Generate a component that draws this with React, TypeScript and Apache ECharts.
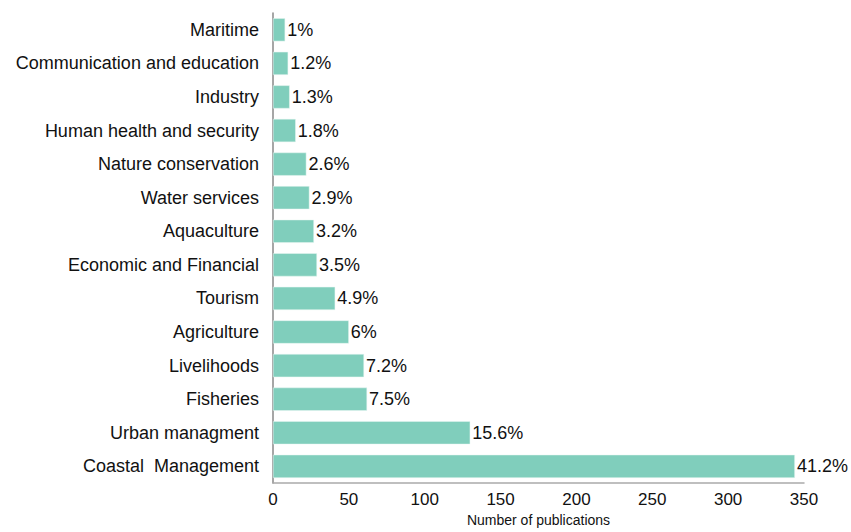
import React, { useEffect, useRef } from "react";
import * as echarts from "echarts";

const categories = [
  "Coastal  Management",
  "Urban managment",
  "Fisheries",
  "Livelihoods",
  "Agriculture",
  "Tourism",
  "Economic and Financial",
  "Aquaculture",
  "Water services",
  "Nature conservation",
  "Human health and security",
  "Industry",
  "Communication and education",
  "Maritime",
];
const publications = [344, 130, 62, 60, 50, 41, 29, 27, 24, 22, 15, 11, 10, 8];
const percentLabels = ["41.2%", "15.6%", "7.5%", "7.2%", "6%", "4.9%", "3.5%", "3.2%", "2.9%", "2.6%", "1.8%", "1.3%", "1.2%", "1%"];
const xTicks = [0, 50, 100, 150, 200, 250, 300, 350];

export default function App() {
  const ref = useRef<HTMLDivElement>(null);
  useEffect(() => {
    if (!ref.current) return;
    const chart = echarts.init(ref.current, null, { renderer: "svg" });
    chart.setOption({
      animation: false,
      textStyle: { fontFamily: "Liberation Sans, Arial, sans-serif" },
      grid: { left: 273, right: 47, top: 13, bottom: 41, containLabel: false },
      xAxis: {
        type: "value",
        min: xTicks[0],
        max: xTicks[xTicks.length - 1],
        interval: 50,
        name: "Number of publications",
        nameLocation: "middle",
        nameGap: 26,
        nameTextStyle: { fontSize: 14, color: "#111" },
        axisLine: { show: true, lineStyle: { color: "#aaa", width: 1.5 } },
        axisTick: { show: false },
        splitLine: { show: false },
        axisLabel: { fontSize: 17, color: "#111", margin: 8 },
      },
      yAxis: {
        type: "category",
        data: categories,
        axisLine: { show: true, lineStyle: { color: "#888", width: 1.5 } },
        axisTick: { show: false },
        axisLabel: { fontSize: 18, color: "#111", margin: 14 },
      },
      series: [
        {
          type: "bar",
          data: publications,
          barCategoryGap: "31%",
          itemStyle: { color: "#80cebc", borderColor: "#e8f6f2", borderWidth: 0.5 },
          label: {
            show: true,
            position: "right",
            distance: 2,
            fontSize: 18,
            color: "#111",
            formatter: (p: any) => percentLabels[p.dataIndex],
          },
        },
      ],
    });
    return () => chart.dispose();
  }, []);
  return (
    <div
      ref={ref}
      style={{ position: "fixed", left: 0, top: 0, width: 851, height: 532, background: "#fff" }}
    />
  );
}
